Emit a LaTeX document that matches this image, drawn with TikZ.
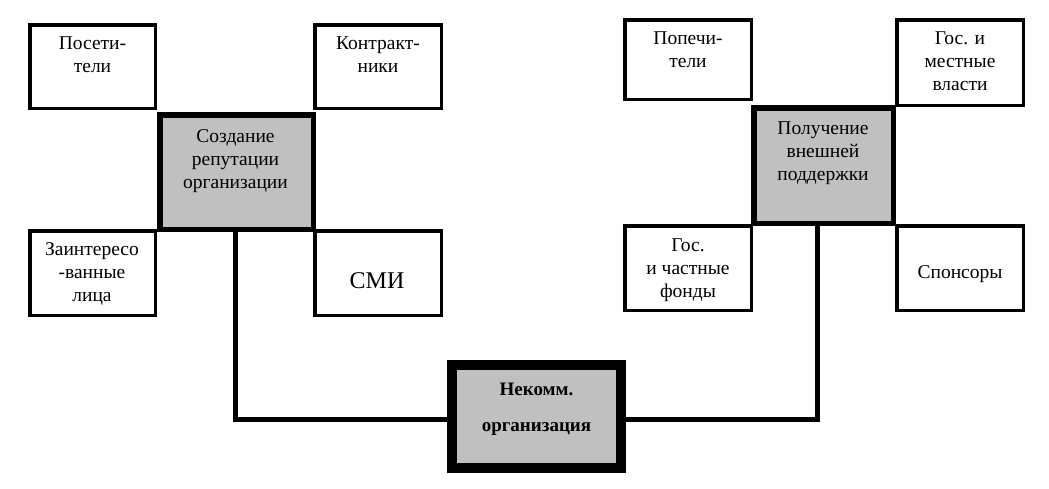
\documentclass[tikz,border=0pt]{standalone}
\usepackage{fontspec}
\setmainfont{Liberation Serif}
\definecolor{boxgray}{HTML}{C0C0C0}
\tikzset{
  smallbox/.style={draw, line width=3.5pt, fill=white, inner sep=0pt},
  midbox/.style={draw, line width=5.5pt, fill=boxgray, inner sep=0pt},
  orgbox/.style={draw, line width=10pt, fill=boxgray, inner sep=0pt},
  txt/.style={anchor=north, inner sep=0pt, align=center, font=\fontsize{19.5}{23}\selectfont},
  bigtxt/.style={anchor=base, inner sep=0pt, font=\fontsize{24}{28}\selectfont},
  boldtxt/.style={anchor=north, inner sep=0pt, align=center, font=\fontsize{19}{36}\selectfont\bfseries},
  link/.style={line width=4.5pt}
}
\begin{document}
\begin{tikzpicture}[x=1pt,y=-1pt]
\useasboundingbox (0,0) rectangle (1049,488);
% left group
\node[smallbox, minimum width=125.5pt, minimum height=83.5pt] (b1) at (92.5,66.5) {};
\node[smallbox, minimum width=126.5pt, minimum height=83.5pt] (b2) at (378,66.5) {};
\node[smallbox, minimum width=125.5pt, minimum height=84.5pt] (b3) at (92.5,273) {};
\node[smallbox, minimum width=126.5pt, minimum height=84.5pt] (b4) at (378,273) {};
\node[midbox, minimum width=153.5pt, minimum height=114.5pt] (c1) at (236.5,172) {};
% right group
\node[smallbox, minimum width=126.5pt, minimum height=79.5pt] (b5) at (688,59.5) {};
\node[smallbox, minimum width=126.5pt, minimum height=85.5pt] (b6) at (960,62.5) {};
\node[smallbox, minimum width=126.5pt, minimum height=84.5pt] (b7) at (688,268) {};
\node[smallbox, minimum width=126.5pt, minimum height=84.5pt] (b8) at (960,268) {};
\node[midbox, minimum width=139.5pt, minimum height=115.5pt] (c2) at (823.5,165.5) {};
% bottom
\node[orgbox, minimum width=169pt, minimum height=103pt] (n) at (536.5,416.5) {};
% texts
\node[txt] (t1) at (92.5,37) {Посети-\\тели};
\node[txt] (t2) at (378,37) {Контракт-\\ники};
\node[txt] (t3) at (92,242) {Заинтересо\\-ванные\\лица};
\node[bigtxt] (t4) at (377,288) {СМИ};
\node[txt] (t5) at (235.5,129) {Создание\\репутации\\организации};
\node[txt] (t6) at (688,32) {Попечи-\\тели};
\node[txt] (t7) at (960,32) {Гос. и\\местные\\власти};
\node[txt] (t8) at (688,239) {Гос.\\и частные\\фонды};
\node[txt, anchor=base] (t9) at (960,278) {Спонсоры};
\node[txt] (t10) at (823,122) {Получение\\внешней\\поддержки};
\node[boldtxt] (t11) at (536.5,382.5) {Некомм.\\организация};
% connectors
\draw[link] ([xshift=-1pt]c1.south) |- ([yshift=-3pt]n.west);
\draw[link] ([xshift=-6pt]c2.south) |- ([yshift=-3pt]n.east);
\end{tikzpicture}
\end{document}
